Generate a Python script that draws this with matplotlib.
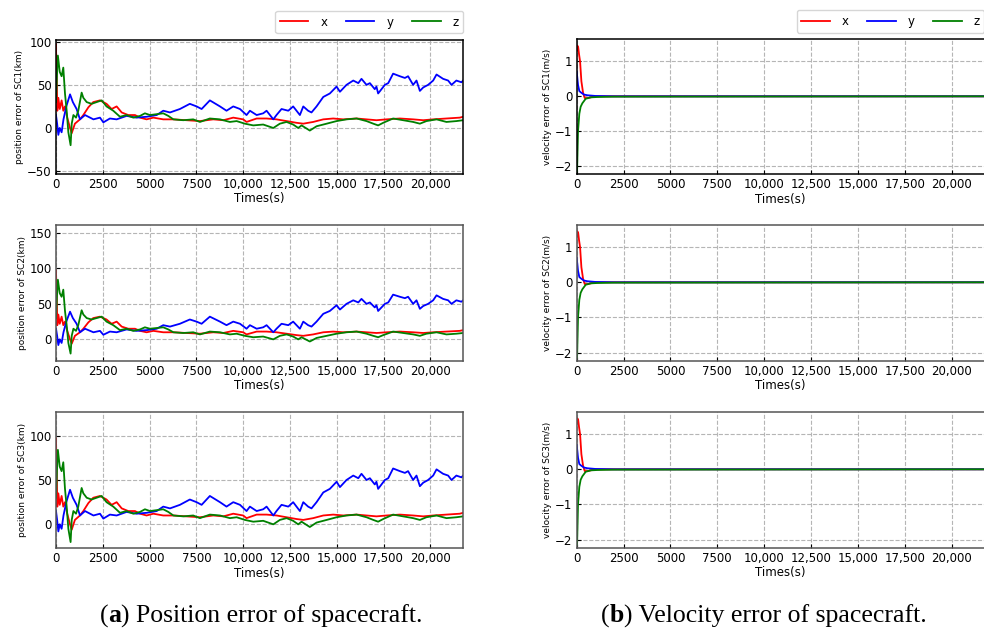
import matplotlib
matplotlib.use("Agg")
import matplotlib.pyplot as plt
from matplotlib.ticker import FuncFormatter, MultipleLocator

# ---------------- data ----------------
# position error (km) - identical curves in the three SC panels
pos_x_t = [0, 20, 40, 70, 125, 200, 300, 390, 480, 600, 750, 840, 1010, 1280, 1460, 1730,
           1990, 2350, 2700, 2970, 3240, 3510, 3860, 4220, 4490, 4840, 5200, 5730, 6270,
           6980, 7690, 8400, 8940, 9470, 10000, 10180, 10720, 11250, 11780, 12320, 12850,
           13210, 13740, 14280, 14810, 15350, 16060, 16590, 17120, 17660, 18370, 19080,
           19620, 20150, 20860, 21570, 21750]
pos_x_v = [97, 70, 60, 20, 35, 22, 32, 20, 25, 12, 0, -6, 5, 10, 15, 24,
           30, 32, 28, 22, 25, 18, 15, 15, 12, 10, 12, 10, 10,
           9, 8, 10, 9, 12, 10, 7, 11, 11, 10, 8, 6,
           5, 7, 10, 11, 10, 11, 10, 9, 10, 11, 10,
           9, 10, 11, 12, 13]

pos_y_t = [0, 60, 125, 200, 300, 400, 550, 750, 900, 1100, 1280, 1550, 2000, 2350, 2530,
           2880, 3240, 3770, 4300, 4840, 5380, 5730, 6090, 6620, 7150, 7510, 7780, 8220,
           8760, 9110, 9470, 9830, 10180, 10360, 10720, 11070, 11250, 11610, 11780, 12050,
           12410, 12670, 12850, 13030, 13210, 13470, 13650, 13920, 14280, 14630, 14990,
           15170, 15520, 15880, 16150, 16320, 16590, 16770, 17030, 17120, 17210, 17570,
           17750, 18010, 18370, 18640, 18810, 19080, 19260, 19440, 19620, 19880, 20150,
           20330, 20680, 20950, 21130, 21390, 21660, 21750]
pos_y_v = [15, 5, -8, 0, -5, 10, 25, 39, 30, 22, 10, 15, 10, 12, 6.5,
           11, 10, 14, 12, 13, 15, 20, 18, 22, 28, 25, 22, 32,
           25, 20, 25, 22, 15, 20, 15, 17, 20, 10, 15, 22,
           20, 25, 20, 15, 25, 20, 18, 25, 36, 40, 48,
           42, 50, 55, 52, 57, 50, 52, 45, 48, 40, 50,
           52, 63, 60, 58, 60, 50, 55, 43, 47, 50, 55,
           62, 57, 55, 50, 55, 53, 55]

pos_z_t = [0, 50, 100, 200, 300, 390, 480, 570, 660, 780, 840, 930, 1070, 1190, 1370,
           1460, 1640, 1900, 2170, 2440, 2700, 3060, 3420, 3770, 4130, 4490, 4750, 5020,
           5380, 5730, 6000, 6270, 6800, 7330, 7690, 8220, 8760, 9290, 9650, 10090, 10540,
           11070, 11610, 11960, 12320, 12670, 12940, 13120, 13560, 13920, 14460, 14990,
           15520, 16060, 16590, 16950, 17210, 17480, 18010, 18550, 19080, 19440, 19790,
           20330, 20860, 21390, 21750]
pos_z_v = [30, 60, 84, 65, 60, 70, 40, 20, -5, -20, 5, 15, 12, 20, 41,
           35, 30, 28, 30, 32, 25, 20, 13, 15, 12, 14, 17, 15,
           16, 17, 14, 10, 9, 10, 7, 11, 10, 7, 8, 5, 3,
           4, 0, 5, 7, 4, 0, 3, -3, 2, 5, 8,
           10, 11, 8, 5, 3, 6, 11, 9, 7, 5, 8,
           10, 7, 8, 9]

# velocity error (m/s) - identical curves in the three SC panels
vel_x_t = [0, 35, 80, 125, 180, 250, 340, 430, 570, 750, 925, 2000, 21750]
vel_x_v = [1.3, 1.45, 1.4, 1.2, 1.0, 0.43, 0.1, -0.05, -0.05, -0.03, 0.0, 0.0, 0.0]
vel_y_t = [0, 70, 140, 250, 390, 570, 1000, 2000, 21750]
vel_y_v = [0.7, 0.33, 0.15, 0.1, 0.05, 0.03, 0.01, 0.0, 0.0]
vel_z_t = [0, 20, 70, 140, 210, 300, 480, 750, 1100, 2000, 21750]
vel_z_v = [-2.0, -2.15, -1.0, -0.5, -0.3, -0.2, -0.07, -0.03, -0.02, -0.01, 0.0]

sc_names = ["SC1", "SC2", "SC3"]
pos_ylims = [(-53, 102), (-30, 161), (-27, 127)]
vel_ylim = (-2.23, 1.63)
x_max = 21760
colors = {"x": "red", "y": "blue", "z": "green"}

# ---------------- figure ----------------
W, H = 984, 631
fig = plt.figure(figsize=(W / 100, H / 100), dpi=100)

def fr(x0, x1, ytop, ybot):
    return [x0 / W, 1 - ybot / H, (x1 - x0) / W, (ybot - ytop) / H]

left_rows = [(40, 173.7), (225, 360.7), (411.7, 548.3)]
right_rows = [(39.3, 174.3), (225, 360.7), (412, 547.7)]

xfmt = FuncFormatter(lambda v, p: f"{int(v):,}" if v >= 10000 else f"{int(v)}")

def style(ax, row):
    ax.set_xlim(0, x_max)
    ax.xaxis.set_major_locator(MultipleLocator(2500))
    ax.xaxis.set_major_formatter(xfmt)
    ax.grid(True, ls="--", color="#b5b5b5", lw=0.8)
    ax.tick_params(direction="in", labelsize=8.5, length=3, pad=3)
    ax.set_xlabel("Times(s)", fontsize=8.5, labelpad=1)
    ec = "black" if row == 0 else "#555555"
    for s in ax.spines.values():
        s.set_color(ec)
        s.set_linewidth(1.1)

axes_pos = []
axes_vel = []
for i, sc in enumerate(sc_names):
    axp = fig.add_axes(fr(56, 463.3, *left_rows[i]))
    axp.plot(pos_x_t, pos_x_v, color=colors["x"], lw=1.3, label="x")
    axp.plot(pos_y_t, pos_y_v, color=colors["y"], lw=1.3, label="y")
    axp.plot(pos_z_t, pos_z_v, color=colors["z"], lw=1.3, label="z")
    axp.set_ylim(*pos_ylims[i])
    axp.yaxis.set_major_locator(MultipleLocator(50))
    style(axp, i)
    axp.set_ylabel(f"position error of {sc}(km)", fontsize=6.5, labelpad=2)
    axes_pos.append(axp)

    axv = fig.add_axes(fr(576.7, 984.5, *right_rows[i]))
    axv.plot(vel_x_t, vel_x_v, color=colors["x"], lw=1.3, label="x")
    axv.plot(vel_y_t, vel_y_v, color=colors["y"], lw=1.3, label="y")
    axv.plot(vel_z_t, vel_z_v, color=colors["z"], lw=1.3, label="z")
    axv.set_ylim(*vel_ylim)
    axv.yaxis.set_major_locator(MultipleLocator(1))
    style(axv, i)
    axv.set_ylabel(f"velocity error of {sc}(m/s)", fontsize=6.5, labelpad=2)
    axes_vel.append(axv)

for ax in (axes_pos[0], axes_vel[0]):
    ax.legend(loc="lower right", bbox_to_anchor=(1.0, 1.05), ncol=3, fontsize=8.5,
              frameon=True, borderaxespad=0, handlelength=2.4, columnspacing=1.6,
              handletextpad=1.0, edgecolor="#cccccc", fancybox=True)

# captions with bold letter
fig.canvas.draw()
renderer = fig.canvas.get_renderer()

def caption(xc_px, yc_px, letter, rest):
    fam = ["Liberation Serif"]
    fs = 18.5
    parts = [("(", "normal"), (letter, "bold"), (") " + rest, "normal")]
    texts = []
    for s, w in parts:
        t = fig.text(0, 0, s, fontsize=fs, family=fam, weight=w, va="center", ha="left")
        texts.append(t)
    widths = [t.get_window_extent(renderer).width for t in texts]
    total = sum(widths)
    x = xc_px - total / 2
    for t, w in zip(texts, widths):
        t.set_position((x / W, 1 - yc_px / H))
        x += w

caption(261, 616, "a", "Position error of spacecraft.")
caption(764, 616, "b", "Velocity error of spacecraft.")

fig.savefig("out.png", dpi=100)
